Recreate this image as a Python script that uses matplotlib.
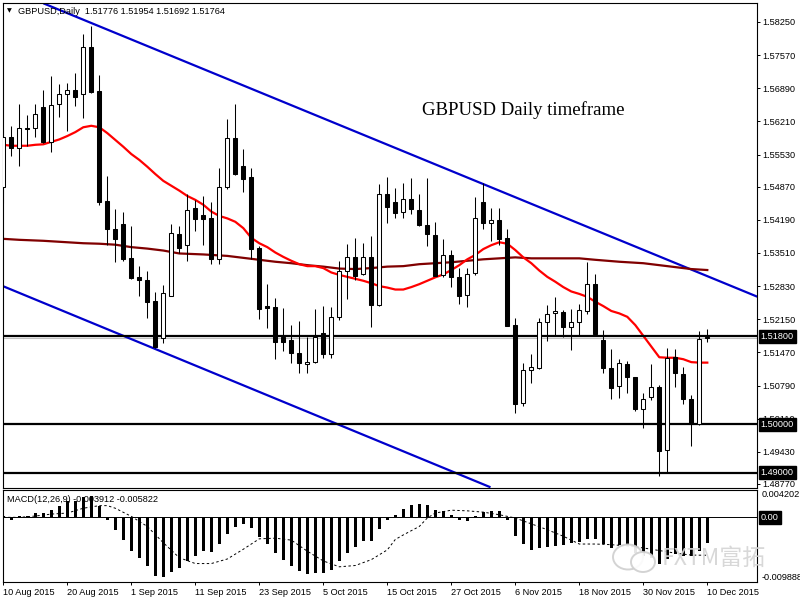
import matplotlib
matplotlib.use("Agg")
import matplotlib.pyplot as plt
import matplotlib.transforms as mtransforms
from matplotlib.patches import Rectangle, Ellipse

# daily candles, 10 Aug 2015 .. 10 Dec 2015 (bar index 0..88)
OPEN = [1.5487, 1.5589, 1.5566, 1.5608, 1.5607, 1.5650, 1.5579, 1.5656, 1.5677, 1.5685,
        1.5677, 1.5773, 1.5683, 1.5457, 1.5400, 1.5411, 1.5341, 1.5302, 1.5296, 1.5253,
        1.5176, 1.5263, 1.5389, 1.5367, 1.5443, 1.5429, 1.5423, 1.5339, 1.5487, 1.5586,
        1.5530, 1.5506, 1.5361, 1.5242, 1.5240, 1.5178, 1.5172, 1.5145, 1.5123, 1.5127,
        1.5186, 1.5143, 1.5220, 1.5313, 1.5342, 1.5307, 1.5342, 1.5244, 1.5472, 1.5455,
        1.5436, 1.5461, 1.5439, 1.5408, 1.5387, 1.5306, 1.5346, 1.5301, 1.5264, 1.5309,
        1.5455, 1.5412, 1.5418, 1.5381, 1.5203, 1.5043, 1.5111, 1.5114, 1.5209, 1.5227,
        1.5229, 1.5199, 1.5209, 1.5232, 1.5287, 1.5172, 1.5114, 1.5078, 1.5123, 1.5096,
        1.5030, 1.5056, 1.5075, 1.4946, 1.5138, 1.5102, 1.5051, 1.5000, 1.51776]
HIGH = [1.5603, 1.5612, 1.5657, 1.5634, 1.5657, 1.5686, 1.5714, 1.5698, 1.5700, 1.5721,
        1.5800, 1.5817, 1.5716, 1.5508, 1.5441, 1.5435, 1.5406, 1.5324, 1.5313, 1.5270,
        1.5285, 1.5411, 1.5406, 1.5473, 1.5460, 1.5468, 1.5455, 1.5525, 1.5625, 1.5657,
        1.5564, 1.5525, 1.5365, 1.5287, 1.5258, 1.5238, 1.5203, 1.5212, 1.5178, 1.5236,
        1.5242, 1.5240, 1.5335, 1.5370, 1.5381, 1.5371, 1.5386, 1.5493, 1.5506, 1.5484,
        1.5494, 1.5504, 1.5473, 1.5504, 1.5415, 1.5379, 1.5357, 1.5320, 1.5320, 1.5465,
        1.5494, 1.5443, 1.5443, 1.5400, 1.5217, 1.5126, 1.5144, 1.5217, 1.5244, 1.5260,
        1.5233, 1.5236, 1.5246, 1.5332, 1.5308, 1.5193, 1.5154, 1.5133, 1.5129, 1.5097,
        1.5064, 1.5123, 1.5080, 1.5157, 1.5154, 1.5116, 1.5060, 1.5190, 1.51954]
LOW = [1.5454, 1.5550, 1.5530, 1.5571, 1.5590, 1.5577, 1.5559, 1.5631, 1.5602, 1.5653,
       1.5627, 1.5679, 1.5450, 1.5367, 1.5332, 1.5335, 1.5297, 1.5263, 1.5217, 1.5157,
       1.5167, 1.5262, 1.5350, 1.5335, 1.5397, 1.5367, 1.5328, 1.5328, 1.5482, 1.5510,
       1.5477, 1.5339, 1.5216, 1.5198, 1.5133, 1.5150, 1.5126, 1.5104, 1.5104, 1.5125,
       1.5135, 1.5136, 1.5214, 1.5257, 1.5296, 1.5306, 1.5199, 1.5243, 1.5412, 1.5423,
       1.5423, 1.5432, 1.5407, 1.5365, 1.5303, 1.5302, 1.5281, 1.5246, 1.5240, 1.5306,
       1.5400, 1.5376, 1.5367, 1.5201, 1.5023, 1.5038, 1.5084, 1.5113, 1.5171, 1.5183,
       1.5179, 1.5151, 1.5183, 1.5225, 1.5181, 1.5105, 1.5051, 1.5053, 1.5063, 1.5027,
       1.4991, 1.5049, 1.4893, 1.4902, 1.5075, 1.5041, 1.4954, 1.4999, 1.51692]
CLOSE = [1.5590, 1.5566, 1.5607, 1.5605, 1.5636, 1.5579, 1.5654, 1.5677, 1.5685, 1.5672,
         1.5773, 1.5682, 1.5456, 1.5400, 1.5379, 1.5338, 1.5300, 1.5295, 1.5251, 1.5159,
         1.5268, 1.5391, 1.5362, 1.5439, 1.5421, 1.5421, 1.5339, 1.5486, 1.5586, 1.5514,
         1.5503, 1.5360, 1.5237, 1.5239, 1.5169, 1.5169, 1.5145, 1.5125, 1.5128, 1.5178,
         1.5143, 1.5220, 1.5313, 1.5342, 1.5304, 1.5342, 1.5244, 1.5473, 1.5446, 1.5434,
         1.5461, 1.5441, 1.5408, 1.5389, 1.5304, 1.5346, 1.5301, 1.5263, 1.5308, 1.5422,
         1.5412, 1.5418, 1.5380, 1.5202, 1.5041, 1.5110, 1.5116, 1.5209, 1.5225, 1.5232,
         1.5200, 1.5209, 1.5233, 1.5287, 1.5184, 1.5114, 1.5073, 1.5125, 1.5096, 1.5030,
         1.5052, 1.5075, 1.4945, 1.5136, 1.5104, 1.5051, 1.5000, 1.5174, 1.51764]

# red moving average, one value per bar
MA_FAST = [1.5573, 1.5571, 1.5571, 1.5571, 1.5573, 1.5574, 1.5579, 1.5584, 1.5591, 1.5599,
           1.5609, 1.5612, 1.5609, 1.5597, 1.5583, 1.5569, 1.5554, 1.5542, 1.5528, 1.5513,
           1.5499, 1.5489, 1.5479, 1.5468, 1.5460, 1.5450, 1.5436, 1.5427, 1.5422, 1.5415,
           1.5402, 1.5382, 1.5371, 1.5363, 1.5352, 1.5343, 1.5335, 1.5328, 1.5324, 1.5324,
           1.5320, 1.5311, 1.5306, 1.5302, 1.5298, 1.5294, 1.5289, 1.5283, 1.5280, 1.5276,
           1.5276, 1.5281, 1.5287, 1.5294, 1.5301, 1.5307, 1.5316, 1.5326, 1.5338, 1.5347,
           1.5359, 1.5367, 1.5373, 1.5370, 1.5357, 1.5342, 1.5330, 1.5315, 1.5302, 1.5292,
           1.5281, 1.5272, 1.5267, 1.5261, 1.5251, 1.5242, 1.5232, 1.5227, 1.5220, 1.5203,
           1.5181, 1.5159, 1.5137, 1.5136, 1.5136, 1.5133, 1.5127, 1.5126, 1.5126]

# dark red slow moving average, read at these bars
MA_SLOW_BARS = [0, 2, 5, 8, 10, 12, 14, 16, 18, 20, 22, 25, 28, 30, 32, 34, 36, 38, 40, 42,
                44, 46, 48, 50, 52, 54, 56, 58, 60, 62, 64, 66, 70, 72, 74, 77, 80, 83, 86, 88]
MA_SLOW = [1.5380, 1.5378, 1.5376, 1.5373, 1.5371, 1.5370, 1.5368, 1.5363, 1.5360, 1.5356,
           1.5350, 1.5348, 1.5345, 1.5341, 1.5337, 1.5333, 1.5330, 1.5326, 1.5323, 1.5319,
           1.5318, 1.5320, 1.5323, 1.5324, 1.5328, 1.5330, 1.5332, 1.5335, 1.5338, 1.5340,
           1.5342, 1.5340, 1.5340, 1.5340, 1.5337, 1.5333, 1.5330, 1.5324, 1.5318, 1.5316]

# channel trend lines (bar, price) endpoints
UPPER_LINE_BARS = [5.0, 94.25]
UPPER_LINE = [1.58634, 1.52613]
LOWER_LINE_BARS = [-0.1, 60.9]
LOWER_LINE = [1.52833, 1.48702]

LEVELS = [1.51800, 1.50000, 1.49000]
LEVEL_LABELS = ["1.51800", "1.50000", "1.49000"]
BID = 1.51764

PRICE_TICKS = [1.58250, 1.57570, 1.56890, 1.56210, 1.55530, 1.54870, 1.54190, 1.53510,
               1.52830, 1.52150, 1.51470, 1.50790, 1.50110, 1.49430, 1.48770]

DATE_BARS = [0, 8, 16, 24, 32, 40, 48, 56, 64, 72, 80, 88]
DATE_LABELS = ["10 Aug 2015", "20 Aug 2015", "1 Sep 2015", "11 Sep 2015", "23 Sep 2015",
               "5 Oct 2015", "15 Oct 2015", "27 Oct 2015", "6 Nov 2015", "18 Nov 2015",
               "30 Nov 2015", "10 Dec 2015"]

MACD_HIST = [0.0002, -0.0004, 0.00015, 0.00025, 0.00066, 0.00066, 0.00118, 0.0017, 0.00245, 0.00245,
             0.0032, 0.0033, 0.0017, -0.00046, -0.0020, -0.0035, -0.0051, -0.0062, -0.0074, -0.0090,
             -0.0092, -0.0084, -0.0078, -0.0067, -0.0060, -0.0052, -0.0054, -0.0041, -0.0025, -0.0015,
             -0.0010, -0.0016, -0.0030, -0.0041, -0.0055, -0.0066, -0.0075, -0.0083, -0.0087, -0.0086,
             -0.0086, -0.0081, -0.0067, -0.0055, -0.0045, -0.0037, -0.0037, -0.0018, -0.00046, 0.0004,
             0.0013, 0.0019, 0.0021, 0.0019, 0.0012, 0.0009, 0.0004, -0.00036, -0.0005, 0.00015,
             0.0008, 0.0009, 0.0009, -0.00036, -0.0028, -0.0041, -0.0050, -0.0047, -0.0046, -0.0044,
             -0.0043, -0.0039, -0.0038, -0.0033, -0.0034, -0.0041, -0.0047, -0.0042, -0.0043, -0.0055,
             -0.0060, -0.0063, -0.0072, -0.0064, -0.0057, -0.0060, -0.0060, -0.0051, -0.003912]
SIGNAL_BARS = [0, 2, 4, 6, 8, 10, 12, 13, 14, 16, 18, 20, 22, 24, 26, 28, 30, 32, 34, 36,
               38, 40, 42, 44, 46, 48, 49, 50, 52, 53, 54, 56, 58, 60, 62, 64, 66, 68, 70, 72,
               74, 76, 78, 80, 82, 84, 86, 88]
SIGNAL = [0.0, 0.0, 0.0002, 0.0005, 0.00066, 0.0014, 0.0018, 0.0018, 0.0014, 0.00015,
          -0.0014, -0.0039, -0.0062, -0.0071, -0.0071, -0.0064, -0.0049, -0.0033, -0.0032, -0.0035,
          -0.0052, -0.0067, -0.0076, -0.0074, -0.0065, -0.0050, -0.0034, -0.0027, -0.0014, -0.0001,
          0.00066, 0.0011, 0.0010, 0.0008, 0.0004, -0.0001, -0.0010, -0.0019, -0.0029, -0.0041,
          -0.0041, -0.0042, -0.0044, -0.0047, -0.0051, -0.0055, -0.0058, -0.005822]
MACD_MAX = 0.004202
MACD_MIN = -0.009888

FONT = "Liberation Sans"
FS = 6.6
W, H = 800, 600


def px_rect(x0, y0, x1, y1):
    return [x0 / W, 1 - y1 / H, (x1 - x0) / W, (y1 - y0) / H]


fig = plt.figure(figsize=(8, 6), dpi=100)
ax = fig.add_axes(px_rect(2.7, 2.7, 757.3, 488.3))
axm = fig.add_axes(px_rect(2.7, 490, 757.3, 581.7))

xlim = (-0.075, 94.25)
ax.set_xlim(*xlim)
ax.set_ylim(1.48681, 1.58646)

blue = "#0000cc"
ax.plot(UPPER_LINE_BARS, UPPER_LINE, color=blue, lw=1.6, zorder=2, solid_capstyle="butt")
ax.plot(LOWER_LINE_BARS, LOWER_LINE, color=blue, lw=1.6, zorder=2, solid_capstyle="butt")
ax.plot(MA_SLOW_BARS, MA_SLOW, color="#800000", lw=1.6, zorder=2)
ax.plot(range(len(MA_FAST)), MA_FAST, color="#ff0000", lw=1.6, zorder=2)
for lvl in LEVELS:
    ax.axhline(lvl, color="black", lw=1.6, zorder=2)
ax.axhline(BID, color="#c0c0c0", lw=0.8, zorder=1.5)

body_w = 0.5
for i, (o, h, l, c) in enumerate(zip(OPEN, HIGH, LOW, CLOSE)):
    ax.plot([i, i], [l, h], color="black", lw=0.75, zorder=3, solid_capstyle="butt")
    lo, hi = min(o, c), max(o, c)
    fc = "white" if c >= o else "black"
    ax.add_patch(Rectangle((i - body_w / 2, lo), body_w, max(hi - lo, 0.00003),
                           facecolor=fc, edgecolor="black", lw=0.75, zorder=4))

ax.yaxis.tick_right()
ax.set_yticks(PRICE_TICKS)
ax.set_yticklabels([f"{t:.5f}" for t in PRICE_TICKS], fontsize=FS, family=FONT)
ax.tick_params(axis="y", length=2.2, width=0.7, pad=1.5, direction="out")
ax.set_xticks([])
for s in ax.spines.values():
    s.set_linewidth(0.8)

trans = mtransforms.blended_transform_factory(ax.transAxes, ax.transData)
for lvl, txt in zip(LEVELS, LEVEL_LABELS):
    ax.text(1.0 + 3.5 / 754.6, lvl, txt, transform=trans, fontsize=FS, family=FONT,
            color="white", va="center", ha="left", zorder=10, clip_on=False,
            bbox=dict(boxstyle="square,pad=0.22", fc="black", ec="black"))

# MACD panel
axm.set_xlim(*xlim)
axm.set_ylim(MACD_MIN, MACD_MAX)
axm.bar(range(len(MACD_HIST)), MACD_HIST, width=0.375, color="black", zorder=2)
axm.plot(SIGNAL_BARS, SIGNAL, color="black", lw=0.7, linestyle=(0, (2.5, 2.5)), zorder=3)
axm.axhline(0, color="black", lw=0.7, zorder=1)
axm.set_yticks([])
axm.set_xticks(DATE_BARS)
axm.set_xticklabels(DATE_LABELS, fontsize=FS, family=FONT)
for lbl in axm.get_xticklabels():
    lbl.set_horizontalalignment("left")
axm.tick_params(axis="x", length=2.2, width=0.7, pad=2.5, direction="out")
for s in axm.spines.values():
    s.set_linewidth(0.8)
tm = mtransforms.blended_transform_factory(axm.transAxes, axm.transData)
axm.text(1.0 + 4 / 754.6, MACD_MAX, f"{MACD_MAX:.6f}", transform=tm, fontsize=FS, family=FONT,
         va="top", ha="left", clip_on=False)
axm.text(1.0 + 4 / 754.6, MACD_MIN, f"{MACD_MIN:.6f}", transform=tm, fontsize=FS, family=FONT,
         va="bottom", ha="left", clip_on=False)
axm.text(1.0 + 3.5 / 754.6, 0, "0.00", transform=tm, fontsize=FS, family=FONT,
         color="white", va="center", ha="left", clip_on=False,
         bbox=dict(boxstyle="square,pad=0.2", fc="black", ec="black"))

# overlay in pixel coordinates for the chart captions and watermark
ov = fig.add_axes([0, 0, 1, 1], zorder=10)
ov.set_xlim(0, W)
ov.set_ylim(H, 0)
ov.axis("off")
ov.patch.set_alpha(0)
ov.text(7, 11, "▼", fontsize=4.5, family="DejaVu Sans", va="center", ha="left")
ov.text(18, 11, f"GBPUSD,Daily  {OPEN[-1]:.5f} {HIGH[-1]:.5f} {LOW[-1]:.5f} {CLOSE[-1]:.5f}",
        fontsize=FS, family=FONT, va="center", ha="left")
ov.text(7, 499, f"MACD(12,26,9) {MACD_HIST[-1]:.6f} {SIGNAL[-1]:.6f}",
        fontsize=FS, family=FONT, va="center", ha="left")
ov.text(422, 110, "GBPUSD Daily timeframe", fontsize=13.5, family="Liberation Serif",
        va="center", ha="left")

# FXTM watermark
ov.add_patch(Ellipse((628, 557), 30, 25, fc="white", ec="#cfcfcf", lw=1.4, alpha=0.9))
ov.add_patch(Ellipse((643, 562), 24, 20, fc="white", ec="#cfcfcf", lw=1.4, alpha=0.9))
ov.text(662, 558, "FXTM富拓", fontsize=16.5, family=["Noto Sans CJK SC", "DejaVu Sans"],
        color="#d4d4d4", alpha=0.9, va="center", ha="left")

fig.savefig("out.png", dpi=100)
